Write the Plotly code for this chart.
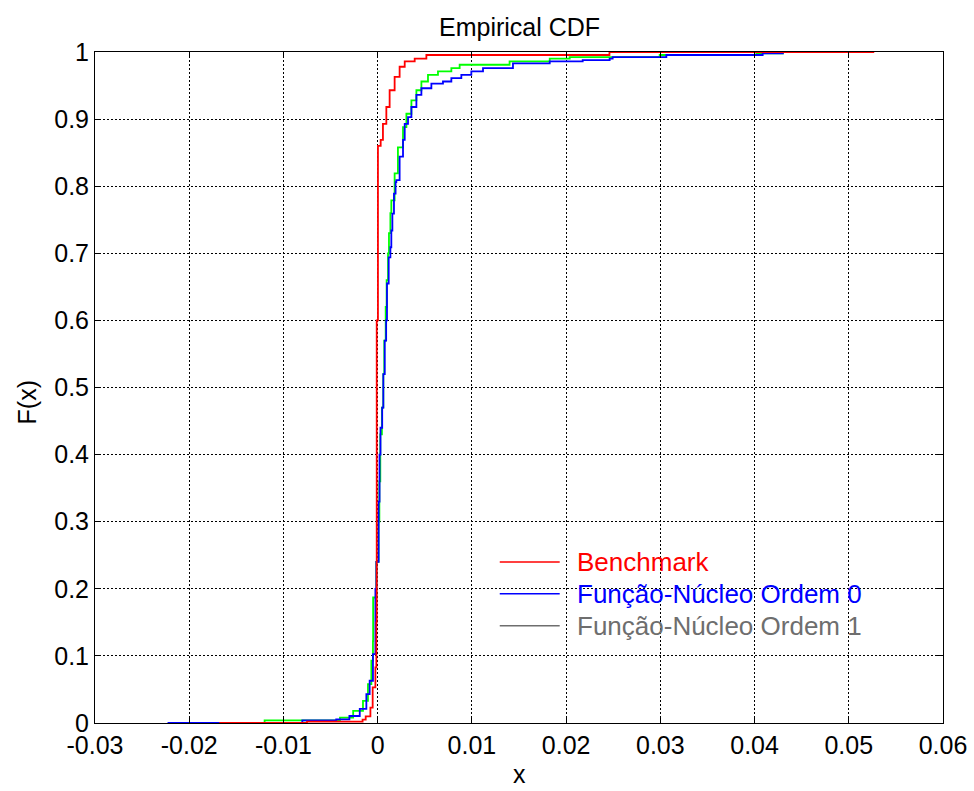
import plotly.graph_objects as go

# ---- data ----
bench_x = [-0.0168, -0.0075, -0.0016, -0.00127, -0.00077, -0.00053, -0.00024, -0.00014,
           -0.0001, 0.00003, 0.00032, 0.00056, 0.00092, 0.00127, 0.0018, 0.00233, 0.00287,
           0.00393, 0.00517, 0.0246, 0.0527]
bench_F = [0.0, 0.002, 0.005, 0.010, 0.023, 0.053, 0.083, 0.15,
           0.60, 0.86, 0.869, 0.893, 0.918, 0.943, 0.963, 0.978, 0.986,
           0.990, 0.9955, 1.0, 1.0]

ord0_x = [-0.0223, -0.0080, -0.0044, -0.0030, -0.0019, -0.0012, -0.00085, -0.0005, -0.00024,
          -0.00014, 0.0001, 0.0002, 0.0003, 0.00048, 0.0006, 0.00075, 0.0009, 0.00099, 0.00117,
          0.00135, 0.00145, 0.00156, 0.00173, 0.0019, 0.00198, 0.00233, 0.00269, 0.00287,
          0.00322, 0.00358, 0.00411, 0.00464, 0.0057, 0.00693, 0.00782, 0.00888, 0.00994,
          0.01118, 0.01436, 0.01826, 0.02176, 0.02462, 0.02494, 0.03064, 0.04086, 0.0430, 0.0515]
ord0_F = [0.0, 0.004, 0.0055, 0.0104, 0.021, 0.043, 0.063, 0.1025, 0.20,
          0.24, 0.33, 0.40, 0.44, 0.47, 0.52, 0.57, 0.60, 0.655, 0.694,
          0.709, 0.734, 0.759, 0.789, 0.806, 0.809, 0.844, 0.869, 0.893,
          0.903, 0.918, 0.936, 0.946, 0.953, 0.956, 0.961, 0.966, 0.971,
          0.976, 0.983, 0.986, 0.988, 0.990, 0.9925, 0.9955, 0.998, 1.0, 1.0]

ord1_x = [-0.0120, -0.0120, -0.0040, -0.0026, -0.00156, -0.00103, -0.00067, -0.0005, -0.00048,
          -0.00014, 0.0001, 0.00018, 0.00028, 0.00045, 0.0006, 0.0007, 0.00085, 0.00095,
          0.0011, 0.0012, 0.00135, 0.00145, 0.0018, 0.00215, 0.00269, 0.00305, 0.00358,
          0.00411, 0.00464, 0.00534, 0.0064, 0.00782, 0.0087, 0.0140, 0.01826, 0.02038,
          0.02993, 0.04019, 0.0430, 0.0515]
ord1_F = [0.0, 0.004, 0.008, 0.018, 0.033, 0.058, 0.093, 0.122, 0.187,
          0.24, 0.30, 0.36, 0.43, 0.47, 0.52, 0.57, 0.62, 0.66,
          0.70, 0.73, 0.76, 0.779, 0.819, 0.858, 0.888, 0.908, 0.928,
          0.943, 0.956, 0.966, 0.971, 0.976, 0.981, 0.986, 0.990, 0.9925,
          0.9955, 0.998, 1.0, 1.0]

x_tickvals = [-0.03, -0.02, -0.01, 0, 0.01, 0.02, 0.03, 0.04, 0.05, 0.06]
x_ticktext = ["-0.03", "-0.02", "-0.01", "0", "0.01", "0.02", "0.03", "0.04", "0.05", "0.06"]
y_tickvals = [0, 0.1, 0.2, 0.3, 0.4, 0.5, 0.6, 0.7, 0.8, 0.9, 1]
y_ticktext = ["0", "0.1", "0.2", "0.3", "0.4", "0.5", "0.6", "0.7", "0.8", "0.9", "1"]

names = ["Benchmark", "Função-Núcleo Ordem 0", "Função-Núcleo Ordem 1"]
legend_colors = ["#ff0000", "#0000ff", "#6e6e6e"]

FONT = "Arial, Liberation Sans, sans-serif"

fig = go.Figure()

# plotted curves
fig.add_trace(go.Scatter(x=ord1_x, y=ord1_F, mode="lines", line=dict(color="#00ff00", width=1.8, shape="hv"),
                         showlegend=False, hoverinfo="skip"))
fig.add_trace(go.Scatter(x=ord0_x, y=ord0_F, mode="lines", line=dict(color="#0000ff", width=1.8, shape="hv"),
                         showlegend=False, hoverinfo="skip"))
fig.add_trace(go.Scatter(x=bench_x, y=bench_F, mode="lines", line=dict(color="#ff0000", width=1.8, shape="hv"),
                         showlegend=False, hoverinfo="skip"))

# manual legend (as drawn in the reference: sample line + coloured label)
leg_x0, leg_x1, leg_tx = 0.4773, 0.548, 0.566
leg_y = [0.240, 0.1925, 0.145]
for nm, col, yy in zip(names, legend_colors, leg_y):
    fig.add_shape(type="line", xref="paper", yref="paper", x0=leg_x0, x1=leg_x1, y0=yy, y1=yy,
                  line=dict(color=col, width=1.5))
    fig.add_annotation(xref="paper", yref="paper", x=leg_tx, y=yy, xanchor="left", yanchor="middle",
                       text=nm, showarrow=False, font=dict(family=FONT, size=26, color=col))

# axis titles and title placed like the reference
fig.add_annotation(xref="paper", yref="paper", x=0.5, y=-0.1, xanchor="center", yanchor="bottom",
                   text="x", showarrow=False, font=dict(family=FONT, size=25, color="black"))
fig.add_annotation(xref="paper", yref="paper", x=-0.080, y=0.478, xanchor="center", yanchor="middle",
                   text="F(x)", textangle=-90, showarrow=False, font=dict(family=FONT, size=25, color="black"))
fig.add_annotation(xref="paper", yref="paper", x=0.5, y=1.037, xanchor="center", yanchor="middle",
                   text="Empirical CDF", showarrow=False, font=dict(family=FONT, size=25, color="black"))

axis_common = dict(
    showline=True, linecolor="black", linewidth=1, mirror="ticks",
    ticks="inside", ticklen=6, tickcolor="black",
    showgrid=True, gridcolor="black", gridwidth=1, griddash="2px,2px",
    zeroline=False, automargin=False,
    tickfont=dict(family=FONT, size=25, color="black"),
)

fig.update_layout(
    width=974, height=791,
    paper_bgcolor="white", plot_bgcolor="white",
    margin=dict(l=95, r=31, t=52, b=68),
    xaxis=dict(range=[-0.03, 0.06], tickvals=x_tickvals, ticktext=x_ticktext, **axis_common),
    yaxis=dict(range=[0, 1], tickvals=y_tickvals, ticktext=y_ticktext, **axis_common),
    showlegend=False,
)

fig.write_html("out.html", config={"displayModeBar": False},
               post_script="document.body.style.margin='0px';document.body.style.overflow='hidden';")
